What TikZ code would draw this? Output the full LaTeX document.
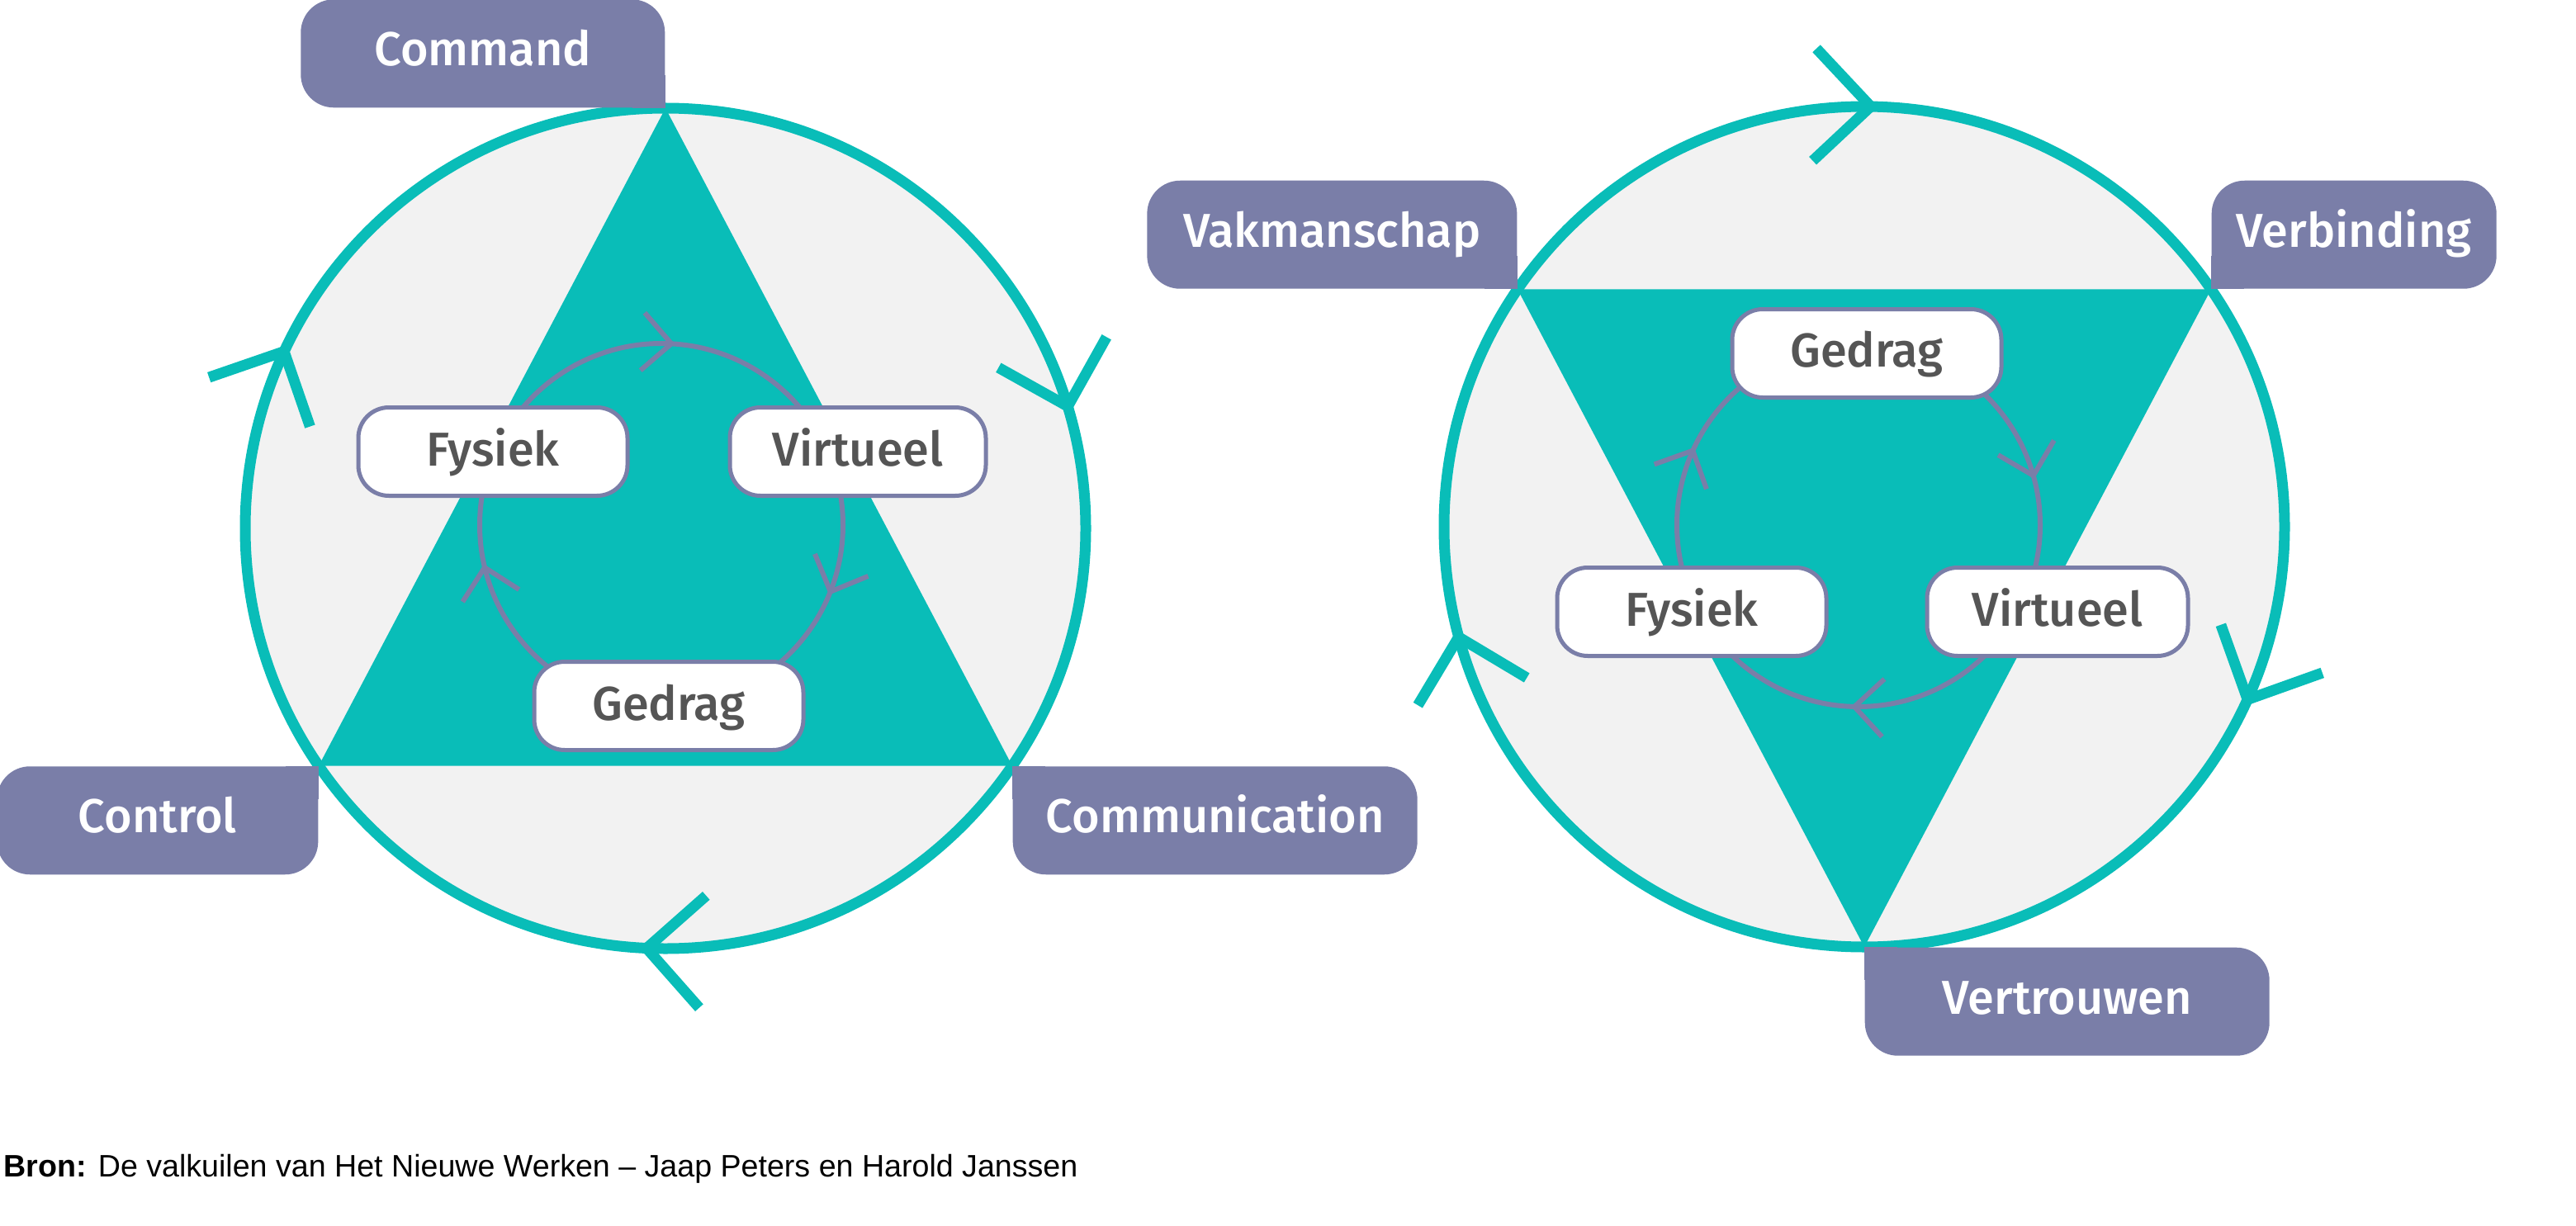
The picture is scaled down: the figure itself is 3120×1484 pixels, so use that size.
\documentclass[tikz,border=0pt]{standalone}
\usepackage{fontspec}
\setmainfont{Liberation Sans}
\newfontfamily\boxfont{Fira Sans}[UprightFont=* Medium]
\usetikzlibrary{arrows.meta,decorations.markings,calc,positioning}

\definecolor{wheelteal}{HTML}{09BDB8}
\definecolor{tagpurple}{HTML}{7A7EA8}
\definecolor{discgray}{HTML}{F2F2F2}
\definecolor{wordgray}{HTML}{555555}

\begin{document}
\begin{tikzpicture}[
  x=0.1mm, y=0.1mm,
  bigtip/.tip = {Straight Barb[length=6.8mm, width=13.6mm, sharp]},
  smalltip/.tip = {Straight Barb[length=3.5mm, width=7mm, sharp]},
  wheelring/.style = {draw=wheelteal, line width=1.3mm},
  cyclering/.style = {draw=tagpurple, line width=0.6mm},
  marks three/.style n args = {4}{postaction=decorate, decoration={markings,
      mark=at position #1 with {\arrow{#4}},
      mark=at position #2 with {\arrow{#4}},
      mark=at position #3 with {\arrow{#4}}}},
  namebox/.style = {fill=tagpurple, text=white, rounded corners=4mm, inner sep=0pt,
      minimum height=13.1mm, text height=4.2mm, text depth=1.2mm,
      font=\boxfont\fontsize{16.4pt}{20pt}\selectfont},
  wordbox/.style = {draw=tagpurple, line width=0.5mm, fill=white, text=wordgray,
      rounded corners=3.7mm, inner sep=0pt, minimum width=32.6mm, minimum height=10.7mm,
      text height=4.2mm, text depth=0.8mm, font=\boxfont\fontsize{16.4pt}{20pt}\selectfont}
  ]
  \useasboundingbox (0,0) rectangle (3120,1484);

  % left wheel
  \coordinate (lc) at (806,844);
  \coordinate (lt) at ($(lc)+(90:509)$);
  \coordinate (ll) at ($(lc)+(214.4:509)$);
  \coordinate (lr) at ($(lc)+(-34.4:509)$);
  \fill[discgray] (lc) circle[radius=509];
  \fill[wheelteal] (lt) -- (ll) -- (lr) -- cycle;
  \draw[wheelring, marks three={0.206}{0.510}{0.822}{bigtip}]
    (lt) arc[start angle=90, delta angle=-360, radius=509];

  \coordinate (lcy) at (801,848);
  \draw[cyclering, marks three={0.0119}{0.3128}{0.7156}{smalltip}]
    ($(lcy)+(90:220)$) arc[start angle=90, delta angle=-360, radius=220];
  \node[wordbox] (lfys) at (597,937) {Fysiek};
  \node[wordbox, minimum width=31mm] (lvir) at (1039,937) {Virtueel};
  \node[wordbox] (lged) at (810,629) {Gedrag};

  \node[namebox, anchor=south east, minimum width=44.1mm] (cmd) at (lt) {Command};
  \fill[tagpurple] (cmd.south east) rectangle ++(-40,40);
  \node[namebox, anchor=north east, minimum width=38.9mm] (ctl) at (ll) {Control};
  \fill[tagpurple] (ctl.north east) rectangle ++(-40,-40);
  \node[namebox, anchor=north west, minimum width=49mm] (com) at (lr) {Communication};
  \fill[tagpurple] (com.north west) rectangle ++(40,-40);

  % right wheel
  \coordinate (rc) at (2258,846);
  \coordinate (rb) at ($(rc)+(270:509)$);
  \coordinate (rl) at ($(rc)+(145.6:509)$);
  \coordinate (rr) at ($(rc)+(34.4:509)$);
  \fill[discgray] (rc) circle[radius=509];
  \fill[wheelteal] (rb) -- (rl) -- (rr) -- cycle;
  \draw[wheelring, marks three={0.2106}{0.5053}{0.8203}{bigtip}]
    (rb) arc[start angle=270, delta angle=-360, radius=509];

  \coordinate (rcy) at (2251,848);
  \draw[cyclering, marks three={0.0067}{0.3203}{0.7092}{smalltip}]
    ($(rcy)+(270:220)$) arc[start angle=270, delta angle=-360, radius=220];
  \node[wordbox] (rged) at (2261,1056) {Gedrag};
  \node[wordbox] (rfys) at (2049,743) {Fysiek};
  \node[wordbox, minimum width=31.6mm] (rvir) at (2492,743) {Virtueel};

  \node[namebox, anchor=south east, minimum width=44.8mm] (vak) at (rl) {Vakmanschap};
  \fill[tagpurple] (vak.south east) rectangle ++(-40,40);
  \node[namebox, anchor=south west, minimum width=34.5mm] (ver) at (rr) {Verbinding};
  \fill[tagpurple] (ver.south west) rectangle ++(40,40);
  \node[namebox, anchor=north west, minimum width=49mm] (vtr) at (rb) {Vertrouwen};
  \fill[tagpurple] (vtr.north west) rectangle ++(40,-40);

  % source line
  \node[anchor=base west, inner sep=0pt, font=\fontsize{10.7pt}{13pt}\selectfont] (src) at (4,59)
    {\textbf{Bron:} De valkuilen van Het Nieuwe Werken – Jaap Peters en Harold Janssen};
\end{tikzpicture}
\end{document}
